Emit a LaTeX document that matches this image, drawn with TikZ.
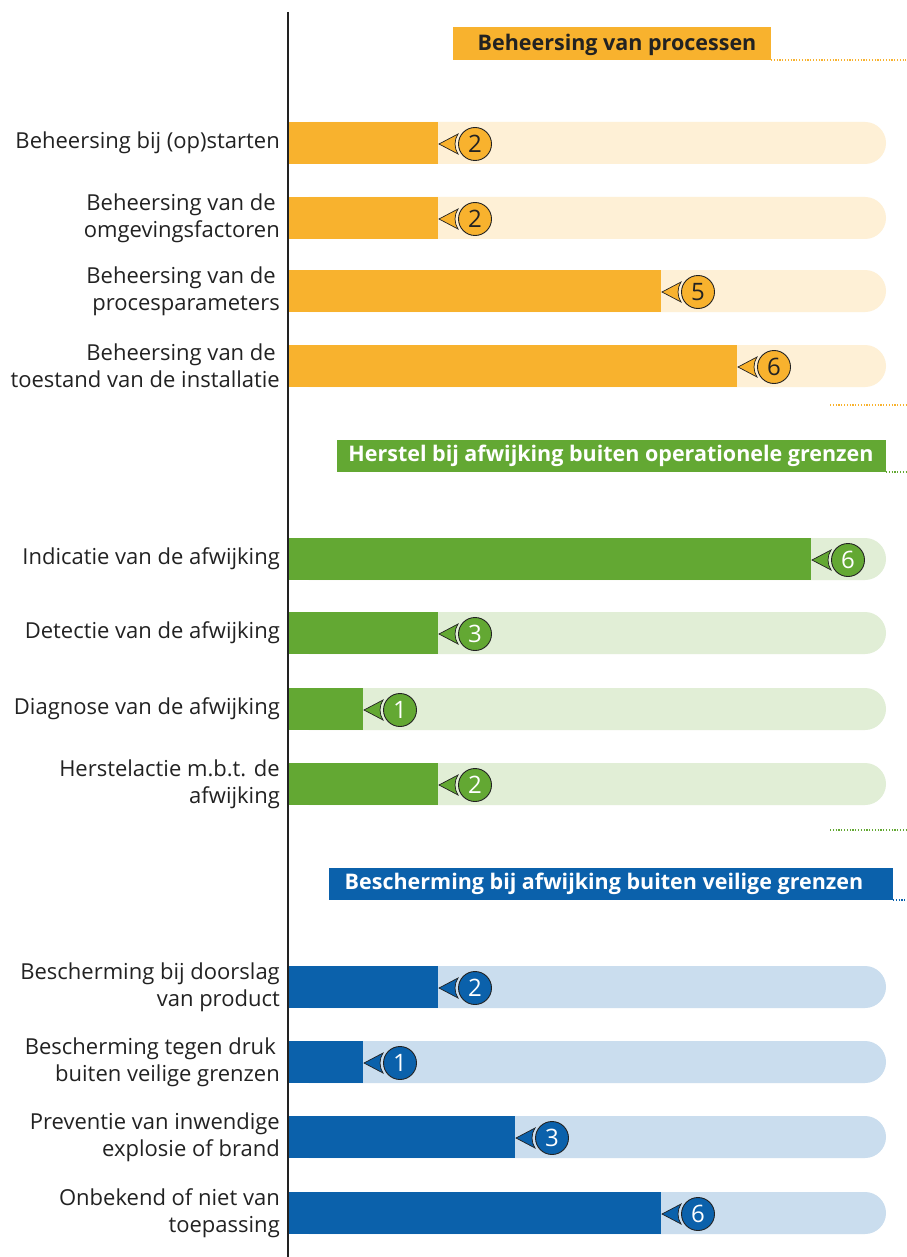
\documentclass[tikz,border=0pt]{standalone}
\usepackage{fontspec}
\setmainfont{Open Sans}
\definecolor{orn}{HTML}{F8B22E}
\definecolor{ornl}{HTML}{FEF0D6}
\definecolor{grn}{HTML}{63A833}
\definecolor{grnl}{HTML}{E1EED6}
\definecolor{blu}{HTML}{0B61AB}
\definecolor{blul}{HTML}{CADDEE}
\definecolor{ink}{HTML}{222222}
\tikzset{
  lbl/.style={anchor=east, align=right, text=ink, font=\fontsize{22}{27}\selectfont, inner sep=0pt},
  hdr/.style={anchor=center, font=\bfseries\fontsize{21.5}{24}\selectfont, inner sep=0pt},
  num/.style={circle, draw=ink, line width=0.9pt, minimum size=33pt, inner sep=0pt, font=\fontsize{24}{24}\selectfont},
  tri/.style={draw=ink, line width=0.7pt},
  dots/.style={line width=1.2pt, dash pattern=on 1.2pt off 1.6pt},
}
\newcommand{\barrow}[8]{%
  \fill[#4, rounded corners=21pt] (288,#2-21) rectangle (886,#2+21);
  \fill[#5] (288,#2-21) rectangle (#3,#2+21);
  \node[lbl] (l#1) at (280,#2) {#8};
  \node[num, fill=#5, text=#7] (n#1) at (#3+37,#2+1) {#6};
  \draw[tri, fill=#5] (#3+1,#2+1) -- (#3+20,#2-9) .. controls (#3+16,#2-3) and (#3+16,#2+5) .. (#3+20,#2+11) -- cycle;
}
\begin{document}
\begin{tikzpicture}[x=1pt,y=-1pt]
\useasboundingbox (0,0) rectangle (906,1257);
\fill[white] (0,0) rectangle (906,1257);

% headers
\fill[orn] (453,27) rectangle (771,60);
\node[hdr, text=ink] (h1) at (617,45) {Beheersing van processen};
\coordinate (h1e) at (906,60);
\draw[orn, dots] (771,60) -- (h1e);

\draw[orn, dots] (830,405) -- (906,405);
\fill[grn] (337,440) rectangle (886,472);
\node[hdr, text=white] (h2) at (611,456) {Herstel bij afwijking buiten operationele grenzen};
\draw[grn, dots] (886,472) -- (906,472);

\draw[grn, dots] (830,830) -- (906,830);
\fill[blu] (329,868) rectangle (893,900);
\node[hdr, text=white] (h3) at (604,884) {Bescherming bij afwijking buiten veilige grenzen};
\draw[blu, dots] (893,900) -- (906,900);

% rows
\barrow{1}{143}{438}{ornl}{orn}{2}{ink}{Beheersing bij (op)starten}
\barrow{2}{218}{438}{ornl}{orn}{2}{ink}{Beheersing van de\hspace*{4pt}\\omgevingsfactoren}
\barrow{3}{291}{661}{ornl}{orn}{5}{ink}{Beheersing van de\hspace*{4pt}\\procesparameters}
\barrow{4}{366}{737}{ornl}{orn}{6}{ink}{Beheersing van de\hspace*{4pt}\\toestand van de installatie}

\barrow{5}{559}{811}{grnl}{grn}{6}{white}{Indicatie van de afwijking}
\barrow{6}{633}{438}{grnl}{grn}{3}{white}{Detectie van de afwijking}
\barrow{7}{709}{363}{grnl}{grn}{1}{white}{Diagnose van de afwijking}
\barrow{8}{784}{438}{grnl}{grn}{2}{white}{Herstelactie m.b.t. de\\afwijking}

\barrow{9}{987}{438}{blul}{blu}{2}{white}{Bescherming bij doorslag\\van product}
\barrow{10}{1062}{363}{blul}{blu}{1}{white}{Bescherming tegen druk\hspace*{4pt}\\buiten veilige grenzen}
\barrow{11}{1137}{515}{blul}{blu}{3}{white}{Preventie van inwendige\\explosie of brand}
\barrow{12}{1213}{661}{blul}{blu}{6}{white}{Onbekend of niet van\\toepassing}

% axis
\coordinate (axt) at (288,12);
\coordinate (axb) at (288,1257);
\draw[ink, line width=1.6pt] (axt) -- (axb);
\end{tikzpicture}
\end{document}
